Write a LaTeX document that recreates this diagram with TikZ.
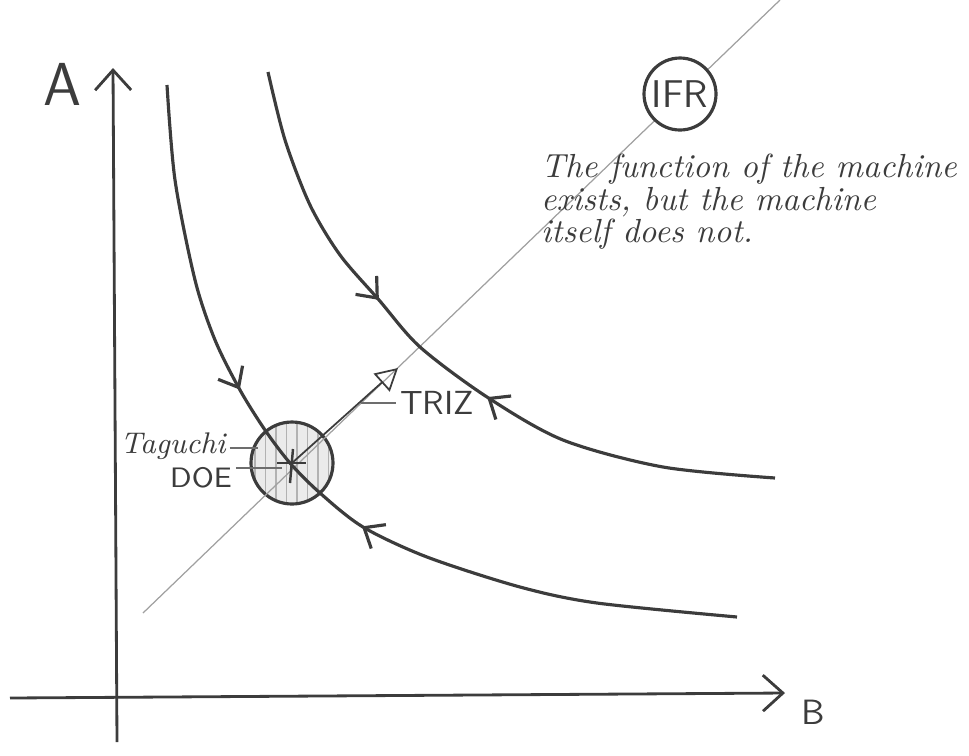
\documentclass[tikz,border=0pt]{standalone}
\usepackage{xcolor}
\usepackage{tikz}
\usetikzlibrary{arrows.meta,positioning,decorations.markings,patterns}
\definecolor{ink}{HTML}{3C3C3C}
\definecolor{pale}{HTML}{A0A0A0}

\begin{document}
\begin{tikzpicture}[x=0.1mm,y=-0.1mm,
  >={Straight Barb[length=2mm,width=3.6mm]},
  chev/.tip={Straight Barb[length=1.7mm,width=2.8mm]},
  ax/.style={draw=ink,line width=0.8pt,->},
  crv/.style={draw=ink,line width=0.9pt,postaction={decorate}},
  diag/.style={draw=pale,line width=0.35pt},
  lead/.style={draw=ink!75,line width=0.4pt},
  blob/.style={circle,draw=ink,line width=0.9pt,minimum size=8.2mm,inner sep=0pt,preaction={fill=black!8},pattern=vertical lines,pattern color=black!30},
  goal/.style={circle,draw=ink,line width=0.9pt,fill=white,minimum size=7.2mm,inner sep=0pt,font=\sffamily\fontsize{11}{13}\selectfont,text=ink},
  lbl/.style={font=\sffamily,text=ink,inner sep=1pt},
  hand/.style={font=\itshape,text=ink,inner sep=1pt}]
  \useasboundingbox (0,0) rectangle (969,755);
  % axes
  \coordinate (ybot) at (117,742);
  \coordinate (ytop) at (113,68);
  \coordinate (xl) at (10,698);
  \coordinate (xr) at (785,693);
  \draw[ax] (ybot) -- (ytop);
  \draw[ax] (xl) -- (xr);
  \node[lbl,font=\sffamily\LARGE] (la) at (62,84) {A};
  \node[lbl,font=\sffamily\normalsize] (lb) at (813,712) {B};
  % operating point and diagonal
  \node[blob] (opt) at (292,463) {};
  \coordinate (dlo) at (143,613);
  \coordinate (dhi) at (780,0);
  \draw[diag] (dlo) -- (dhi);
  \node[goal] (ifr) at (680,94) {IFR};
  \coordinate (triztip) at (398,368);
  \draw[draw=ink,line width=0.5pt,-{Triangle[open,length=2.2mm,width=2.4mm]}] (opt.center) -- (triztip);
  % curves
  \draw[crv,decoration={markings,
      mark=at position 0.355 with {\arrow{chev}},
      mark=at position 0.563 with {\arrowreversed{chev}}}]
    plot[smooth] coordinates {(167,85) (175,180) (195,280) (215,340) (240,390) (265,430) (290,463) (320,493) (363,527) (427,557) (520,587) (597,603) (737,617)};
  \draw[crv,decoration={markings,
      mark=at position 0.364 with {\arrow{chev}},
      mark=at position 0.571 with {\arrowreversed{chev}}}]
    plot[smooth] coordinates {(268,72) (285,140) (310,205) (340,255) (379,300) (420,347) (487,397) (563,440) (663,467) (775,478)};
  % cross at the optimum
  \draw[draw=ink,line width=0.7pt] (opt.center) +(-15,0) -- +(14,0);
  \draw[draw=ink,line width=0.7pt] (opt.center) +(1,-14) -- +(-2,20);
  % labels
  \node[hand,font=\itshape\fontsize{8.5}{10}\selectfont] (tag) at (173,446) {Taguchi};
  \coordinate (tagend) at (258,448);
  \draw[lead] (tag.east |- tagend) -- (tagend);
  \node[lbl,font=\sffamily\footnotesize] (doe) at (201,478) {DOE};
  \coordinate (doeend) at (282,468);
  \draw[lead] (doe.east |- doeend) -- (doeend);
  \node[lbl,font=\sffamily\fontsize{9.5}{11}\selectfont,anchor=west] (triz) at (396,403) {TRIZ};
  \coordinate (trizln) at (361,403);
  \draw[lead] (trizln) -- (triz.west);
  \node[hand,font=\itshape\fontsize{9.5}{9.2}\selectfont,align=left,anchor=north west] (fn) at (537,150)
    {The function of the machine\\exists, but the machine\\itself does not.};
\end{tikzpicture}
\end{document}
